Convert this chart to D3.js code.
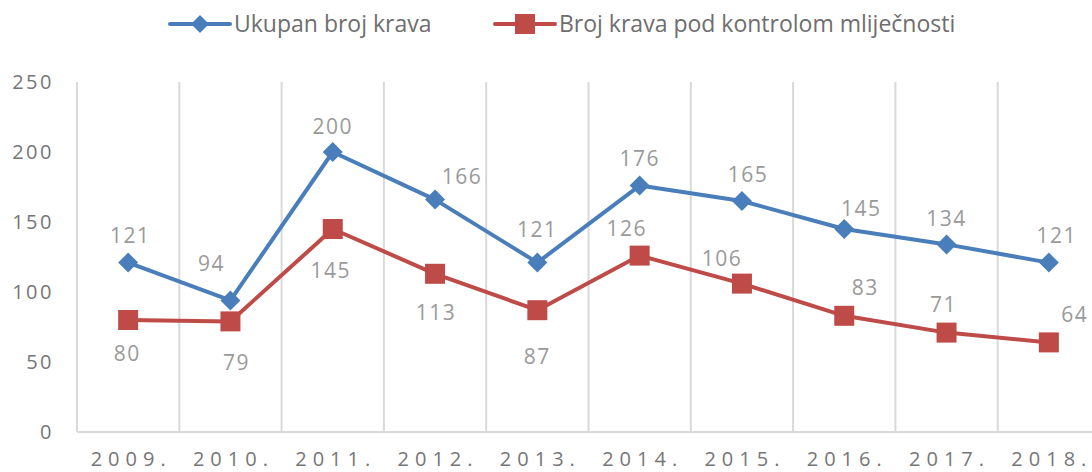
<!DOCTYPE html>
<html><head><meta charset="utf-8">
<script src="https://cdn.jsdelivr.net/npm/d3@7"></script>
<style>
html,body{margin:0;padding:0;background:#fff;overflow:hidden;}
text{font-family:"Open Sans","Noto Sans",sans-serif;}
</style></head>
<body>
<svg id="c" width="1092" height="472"></svg>
<script>
const years = ["2009.","2010.","2011.","2012.","2013.","2014.","2015.","2016.","2017.","2018."];
const ukupno = [121,94,200,166,121,176,165,145,134,121];
const kontrola = [80,79,145,113,87,126,106,83,71,64];
const yTicks = [0,50,100,150,200,250];
const seriesNames = ["Ukupan broj krava","Broj krava pod kontrolom mliječnosti"];

// label offsets (dx, dy) relative to point
const blueOff = [[2,-27],[-19,-37],[0,-26],[27,-23],[0,-33],[0,-27],[6,-27],[17,-21],[0,-26],[8,-27]];
const redOff  = [[-1,33],[6,41],[-2,41],[1,39],[0,46],[-13,-27],[-20,-25],[21,-28],[-3,-28],[26,-28]];

const svg = d3.select("#c");
const pLeft = 77, pRight = 1100, pTop = 82, pBottom = 432;
const x = d3.scaleBand().domain(years).range([pLeft,pRight]).padding(0);
const y = d3.scaleLinear().domain([0,250]).range([pBottom,pTop]);
const cx = d => x(d) + x.bandwidth()/2;

// vertical gridlines at band boundaries
const bounds = years.map(d => x(d)).concat([pRight]);
svg.append("g").selectAll("line").data(bounds).join("line")
  .attr("x1",d=>d).attr("x2",d=>d).attr("y1",pTop).attr("y2",pBottom)
  .attr("stroke","#d9d9d9").attr("stroke-width",2);
// baseline
svg.append("line").attr("x1",pLeft).attr("x2",pRight).attr("y1",pBottom).attr("y2",pBottom)
  .attr("stroke","#d9d9d9").attr("stroke-width",2);

// y tick labels
svg.append("g").selectAll("text").data(yTicks).join("text")
  .attr("x",54).attr("y",d=>y(d)).attr("dy","0.36em").attr("text-anchor","end")
  .attr("fill","#767676").style("font-size","20px").style("letter-spacing","2.5px")
  .text(d=>d);

// x labels
svg.append("g").selectAll("text").data(years).join("text")
  .attr("x",d=>cx(d)+3).attr("y",466).attr("text-anchor","middle")
  .attr("fill","#767676").style("font-size","20px").style("letter-spacing","6px")
  .text(d=>d);

const line = d3.line().x((d,i)=>cx(years[i])).y(d=>y(d));
const blue = "#4a7ebb", red = "#be4b48";

svg.append("path").datum(ukupno).attr("d",line).attr("fill","none")
  .attr("stroke",blue).attr("stroke-width",4).attr("stroke-linejoin","round");
svg.append("path").datum(kontrola).attr("d",line).attr("fill","none")
  .attr("stroke",red).attr("stroke-width",4).attr("stroke-linejoin","round");

const diamond = (s) => `M0,${-s}L${s},0L0,${s}L${-s},0Z`;
svg.append("g").selectAll("path").data(ukupno).join("path")
  .attr("transform",(d,i)=>`translate(${cx(years[i])},${y(d)})`)
  .attr("d",diamond(10)).attr("fill",blue);
svg.append("g").selectAll("rect").data(kontrola).join("rect")
  .attr("x",(d,i)=>cx(years[i])-10).attr("y",d=>y(d)-10)
  .attr("width",20).attr("height",20).attr("fill",red);

// data labels
const lblStyle = sel => sel.attr("dy","0.36em").attr("text-anchor","middle").attr("fill","#9a9a9a")
  .style("font-size","21px").style("letter-spacing","1.5px");
svg.append("g").selectAll("text").data(ukupno).join("text")
  .attr("x",(d,i)=>cx(years[i])+blueOff[i][0]).attr("y",(d,i)=>y(d)+blueOff[i][1])
  .call(lblStyle).text(d=>d);
svg.append("g").selectAll("text").data(kontrola).join("text")
  .attr("x",(d,i)=>cx(years[i])+redOff[i][0]).attr("y",(d,i)=>y(d)+redOff[i][1])
  .call(lblStyle).text(d=>d);

// legend
const lg = svg.append("g");
const items = [{name:seriesNames[0],c:blue,m:"d",x:170},{name:seriesNames[1],c:red,m:"s",x:495}];
items.forEach(it=>{
  const g = lg.append("g").attr("transform",`translate(${it.x},24)`);
  g.append("line").attr("x1",0).attr("x2",60).attr("stroke",it.c).attr("stroke-width",4).attr("stroke-linecap","round");
  if(it.m==="d") g.append("path").attr("d",diamond(9)).attr("transform","translate(30,0)").attr("fill",it.c);
  else g.append("rect").attr("x",20).attr("y",-10).attr("width",20).attr("height",20).attr("fill",it.c);
  g.append("text").attr("x",64).attr("dy","0.35em").attr("fill","#6e6e6e")
   .style("font-size","23px").text(it.name);
});
</script>
</body></html>
